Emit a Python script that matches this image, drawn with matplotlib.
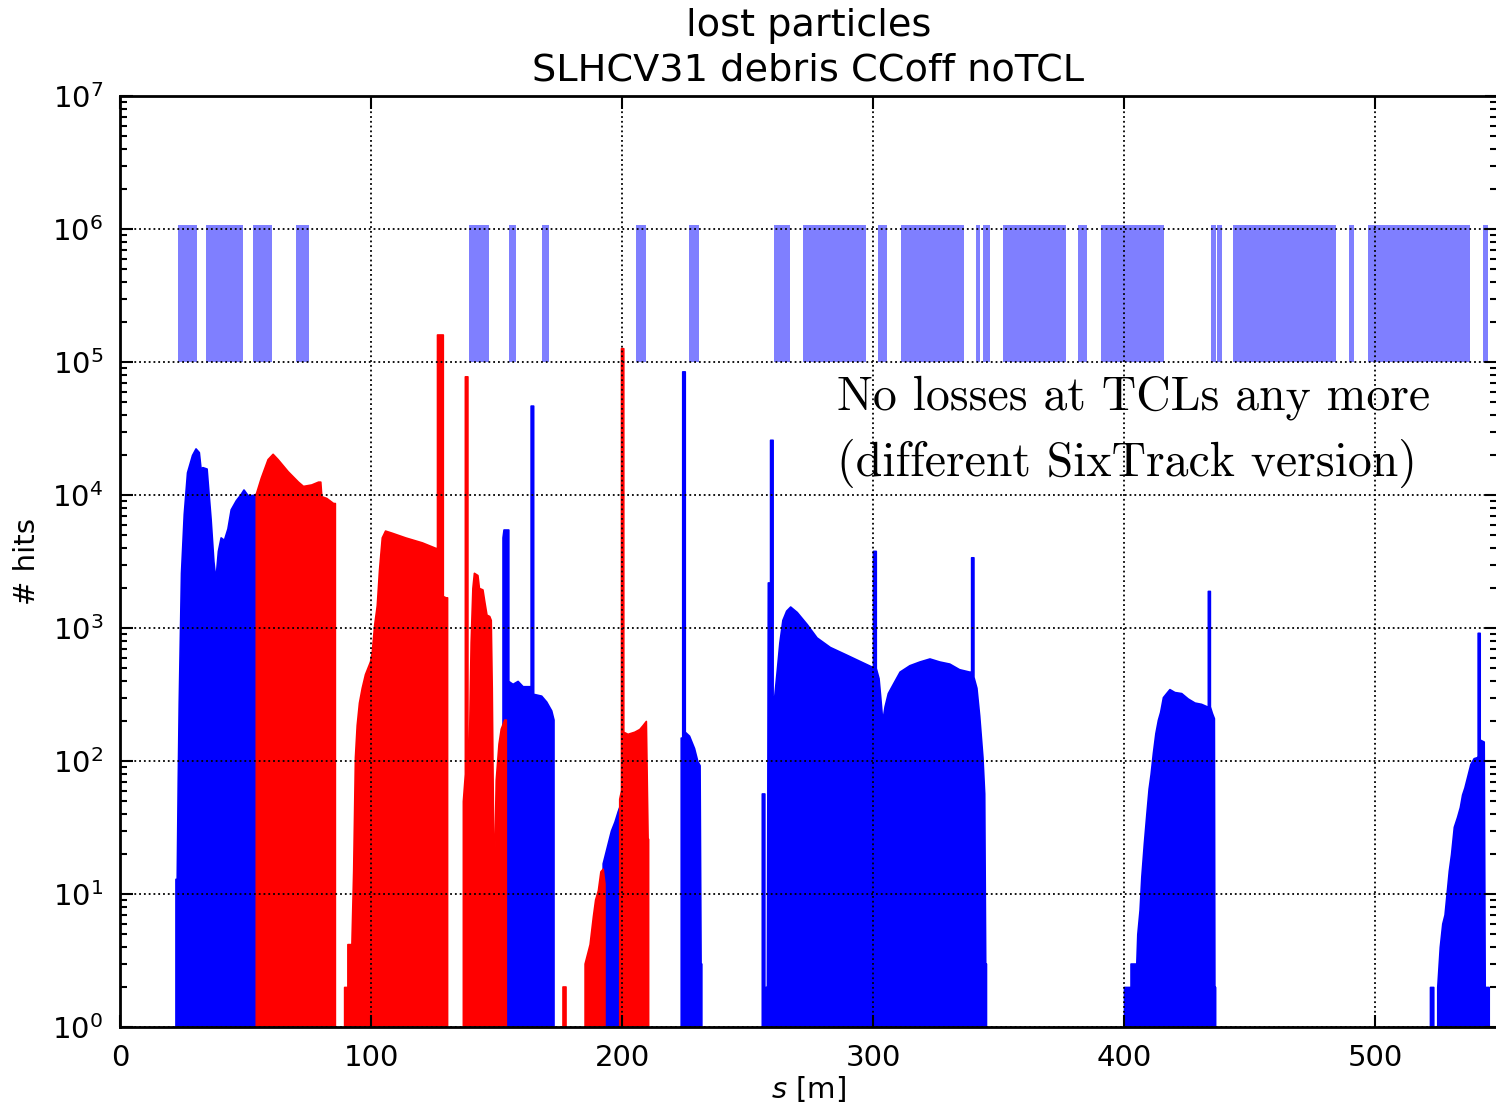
import matplotlib
matplotlib.use('Agg')
import matplotlib.pyplot as plt
import numpy as np

# aperture markers (light blue blocks between 1e5 and ~1e6)
ap_start = [23.1, 34.3, 53.0, 70.1, 139.0, 155.0, 168.1, 205.4, 226.7, 260.7, 272.0, 301.9,
            311.2, 340.9, 344.0, 351.7, 381.5, 390.7, 434.5, 436.9, 443.6, 489.6, 497.1, 543.2]
ap_end = [30.7, 49.0, 60.6, 75.3, 147.0, 157.8, 170.9, 209.6, 230.7, 266.9, 297.2, 305.7,
          336.4, 342.6, 346.6, 376.9, 385.4, 415.9, 436.5, 439.2, 484.5, 491.8, 537.8, 545.1]
ap_low, ap_high = 1e5, 1.07e6

# blue losses
blue1_s = [22.1, 22.1, 22.6, 23.0, 23.4, 24.3, 25.4, 26.7, 28.7, 30.1, 31.4, 32.1, 32.8, 34.5, 35.0,
           36.1, 37.2, 38.0, 39.0, 40.1, 41.4, 42.8, 44.1, 46.1, 48.1, 49.2, 50.8, 52.8, 54.1, 54.1]
blue1_h = [1, 13, 13, 70, 275, 2600, 7200, 14800, 20000, 22400, 21000, 15800, 16200, 15800, 12000,
           6600, 3200, 2300, 3800, 4800, 4600, 5600, 7800, 9100, 10200, 11000, 10000, 10000, 10200, 1]

blue2_s = [152.4, 152.4, 152.8, 154.7, 154.7, 156.4, 158.4, 160.4, 163.1, 163.6, 163.6, 164.6, 164.6,
           167.8, 169.8, 171.8, 172.7, 172.7]
blue2_h = [1, 4800, 5500, 5500, 400, 380, 400, 365, 365, 365, 47000, 47000, 320,
           310, 280, 240, 205, 1]

blue3_s = [192.3, 192.3, 194.3, 195.6, 197.0, 198.3, 198.9, 198.9]
blue3_h = [1, 17, 24, 30, 35, 42, 45, 1]

blue4_s = [223.4, 223.4, 224.0, 224.0, 225.0, 225.0, 226.7, 228.7, 230.0, 230.9, 231.3, 231.6, 231.6]
blue4_h = [1, 150, 150, 85000, 85000, 166, 155, 125, 100, 93, 3, 3, 1]

blue5_s = [255.7, 255.7, 256.7, 256.7, 257.7, 257.7, 258.1, 259.0, 259.0, 260.0, 260.0, 260.6, 261.7,
           262.7, 263.9, 265.4, 267.0, 269.6, 273.6, 277.5, 282.8, 289.4, 296.0, 299.7, 300.0, 300.0,
           301.1, 301.1, 302.2, 302.9, 303.7, 304.6, 305.9, 307.9, 310.6, 314.5, 318.5, 322.5, 326.4,
           330.4, 334.3, 338.3, 339.1, 339.1, 340.0, 340.0, 341.2, 342.3, 343.6, 344.3, 344.7, 345.0, 345.0]
blue5_h = [1, 57, 57, 2, 2, 1, 2200, 2200, 26000, 26000, 275, 300, 490,
           780, 1150, 1350, 1450, 1320, 1070, 850, 720, 630, 550, 510, 510, 3800,
           3800, 500, 420, 300, 200, 257, 324, 380, 470, 525, 560, 590, 560,
           540, 490, 470, 470, 3400, 3400, 430, 355, 220, 107, 57, 3, 3, 1]

blue6_s = [400.0, 400.0, 402.6, 402.6, 404.9, 405.3, 406.2, 406.9, 407.9, 408.9, 409.8, 410.6, 411.5,
           412.5, 413.5, 414.4, 415.5, 416.8, 418.1, 420.1, 422.8, 425.4, 428.1, 430.7, 433.1, 433.4,
           433.4, 434.2, 434.2, 435.0, 435.8, 436.0, 436.3, 436.3]
blue6_h = [1, 2, 2, 3, 3, 5, 7.6, 13.5, 24, 40, 62, 80, 115,
           162, 204, 234, 302, 324, 347, 330, 324, 295, 275, 269, 257, 257,
           1900, 1900, 257, 230, 210, 2, 2, 1]

blue7_s = [521.9, 521.9, 523.2, 523.2, 524.8, 524.8, 525.8, 526.8, 527.7, 528.5, 529.4, 530.3, 531.4,
           532.7, 533.8, 534.7, 535.6, 536.7, 538.0, 539.3, 540.7, 540.9, 540.9, 541.7, 541.7, 543.3,
           543.7, 545.3, 545.3]
blue7_h = [1, 2, 2, 1, 1, 2, 4, 6, 7, 10, 15, 20, 32,
           38, 45, 56, 63, 76, 95, 105, 107, 107, 920, 920, 145, 140,
           2, 2, 1]

# red losses
red1_s = [54.1, 54.1, 56.1, 58.8, 60.8, 62.8, 66.8, 70.9, 72.9, 76.2, 78.9, 79.8, 80.2, 82.2, 84.9, 85.6, 85.6]
red1_h = [1, 10200, 13500, 18600, 20400, 18600, 15100, 12600, 11700, 12000, 12600, 12600, 9800, 9500, 8700, 8700, 1]

red2_s = [89.3, 89.3, 90.6, 90.6, 92.2, 92.9, 93.6, 94.3, 95.2, 96.3, 97.6, 99.6, 100.3, 101.3, 102.3,
          103.2, 104.3, 105.6, 108.3, 113.6, 120.3, 125.7, 126.3, 126.3, 128.6, 128.6, 129.7, 130.3, 130.3]
red2_h = [1, 2, 2, 4.2, 4.2, 15, 107, 186, 275, 355, 450, 560, 660, 1070, 1480,
          2750, 4800, 5400, 5200, 4800, 4400, 4000, 4000, 161000, 161000, 1740, 1700, 1700, 1]

red3_s = [136.6, 136.6, 137.4, 137.4, 138.4, 138.4, 139.0, 139.7, 140.4, 141.0, 142.4, 143.0, 144.4,
          145.1, 146.0, 147.1, 147.7, 148.1, 148.7, 149.2, 149.7, 150.8, 151.7, 153.1, 153.7, 153.7]
red3_h = [1, 50, 80, 78000, 78000, 125, 120, 780, 2000, 2600, 2500, 2000, 1950,
          1600, 1260, 1230, 1150, 355, 22, 22, 72, 135, 175, 205, 205, 1]

red4_s = [176.5, 176.5, 177.8, 177.8]
red4_h = [1, 2, 2, 1]

red5_s = [185.1, 185.1, 187.1, 188.4, 189.3, 190.4, 191.4, 192.3, 193.0, 193.0]
red5_h = [1, 3, 4.2, 6.8, 9.1, 10.7, 14.8, 15.5, 12, 1]

red6_s = [198.9, 198.9, 199.6, 199.6, 200.5, 200.5, 202.2, 204.9, 206.9, 208.2, 209.5, 210.2, 210.4, 210.4]
red6_h = [1, 52, 60, 127000, 127000, 166, 160, 166, 174, 186, 200, 26, 26, 1]

blue_segs = [(blue1_s, blue1_h), (blue2_s, blue2_h), (blue3_s, blue3_h), (blue4_s, blue4_h),
             (blue5_s, blue5_h), (blue6_s, blue6_h), (blue7_s, blue7_h)]
red_segs = [(red1_s, red1_h), (red2_s, red2_h), (red3_s, red3_h), (red4_s, red4_h),
            (red5_s, red5_h), (red6_s, red6_h)]

# %% plot
fig = plt.figure(figsize=(14.96, 11.10), dpi=100)
ax = fig.add_axes([120 / 1496, 1 - 1027 / 1110, 1377 / 1496, 931 / 1110])

ax.bar(ap_start, ap_high - ap_low, width=np.array(ap_end) - np.array(ap_start), bottom=ap_low,
       align='edge', color='blue', alpha=0.5, linewidth=0)

for s, h in blue_segs:
    ax.fill_between(s, 1, h, color='blue', edgecolor='blue', linewidth=1.2)
for s, h in red_segs:
    ax.fill_between(s, 1, h, color='red', edgecolor='red', linewidth=1.2)

ax.set_yscale('log')
ax.set_ylim(1, 1e7)
ax.set_xlim(0, 548.6)
ax.set_xticks([0, 100, 200, 300, 400, 500])
ax.set_axisbelow(False)
ax.grid(True, which='major', color='black', linestyle=':', linewidth=1.3)

ax.tick_params(which='both', direction='in', top=True, right=True, labelsize=21, width=1.5)
ax.tick_params(which='major', length=9, pad=12)
ax.tick_params(which='minor', length=5)
for sp in ax.spines.values():
    sp.set_linewidth(2)

ax.set_title('lost particles\nSLHCV31 debris CCoff noTCL', fontsize=27.5, pad=11, linespacing=1.3)
ax.set_xlabel('$s$ [m]', fontsize=21, labelpad=2)
ax.set_ylabel('# hits', fontsize=21, labelpad=8)

ax.text(0.521, 0.70, 'No losses at TCLs any more\n(different SixTrack version)',
        transform=ax.transAxes, family='cmr10', fontsize=34.4, va='top', ha='left', linespacing=1.5)

fig.savefig('out.png', dpi=100)
